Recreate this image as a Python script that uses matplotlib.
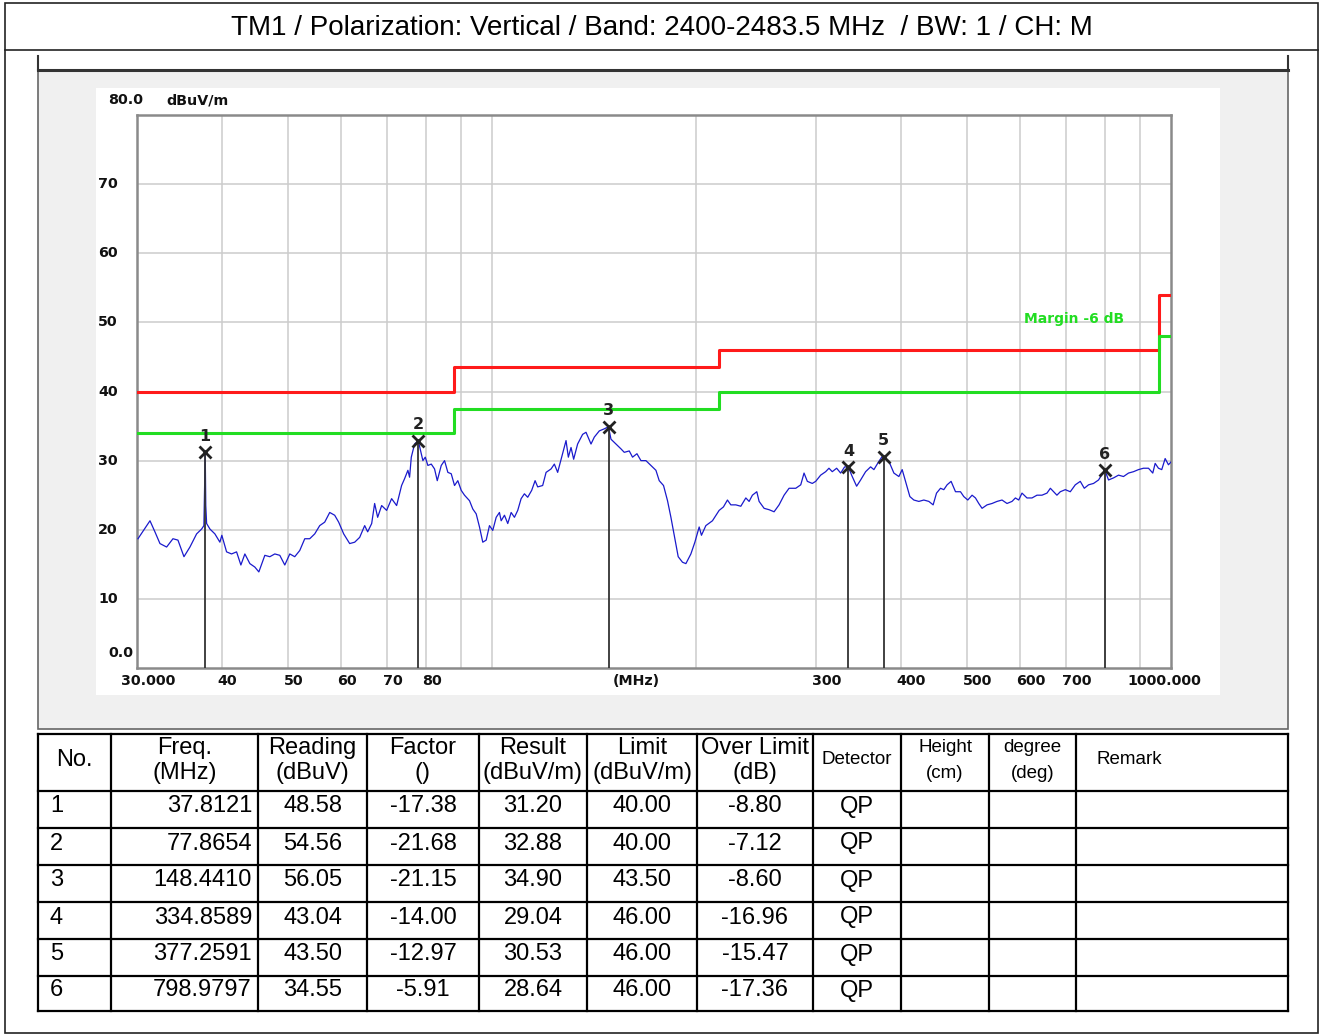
# EMI radiated emission plot (30 MHz - 1 GHz) with the peak table below it.
import matplotlib as mpl
mpl.use('Agg')
import matplotlib.pyplot as plt
from matplotlib.patches import Rectangle

# ------------------------------- data -------------------------------------- #
title = "TM1 / Polarization: Vertical / Band: 2400-2483.5 MHz  / BW: 1 / CH: M"

trace_freq = [30.10, 31.35, 31.88, 32.43, 33.17, 33.89, 34.47, 35.18, 35.90, 36.72,
              37.35, 37.64, 37.72, 37.81, 37.88, 37.99, 38.42, 39.07, 39.74, 40.00,
              40.65, 41.34, 42.05, 42.67, 43.25, 43.99, 44.74, 45.35, 46.28, 47.07,
              47.87, 48.69, 49.52, 50.37, 51.22, 52.10, 52.99, 53.89, 54.81, 55.75,
              56.70, 57.67, 58.65, 59.45, 60.47, 61.71, 62.77, 63.84, 64.93, 65.59,
              66.49, 67.16, 67.85, 68.78, 69.95, 71.14, 72.36, 73.59, 74.35, 75.18,
              75.61, 76.05, 76.90, 77.87, 78.67, 79.10, 79.74, 80.45, 81.38, 82.29,
              83.05, 84.18, 85.13, 86.09, 87.08, 88.06, 89.05, 90.08, 91.09, 92.65,
              93.69, 94.77, 95.84, 96.91, 98.04, 99.14, 100.25, 101.42, 102.55, 103.15,
              104.31, 105.48, 106.70, 107.90, 109.11, 110.37, 111.61, 112.87, 114.40, 115.73,
              116.75, 118.74, 120.12, 122.17, 123.54, 124.93, 126.64, 128.53, 129.54, 130.73,
              131.89, 133.68, 135.97, 137.54, 139.89, 141.46, 143.88, 146.34, 148.44, 149.69,
              152.25, 154.85, 156.59, 159.26, 161.05, 163.47, 165.70, 168.53, 171.41, 174.34,
              176.30, 178.89, 181.33, 183.43, 185.49, 188.02, 190.78, 192.99, 196.28, 198.96,
              201.88, 203.45, 206.51, 211.18, 216.02, 219.19, 222.19, 224.76, 228.60, 232.50,
              236.48, 239.14, 241.82, 245.45, 247.38, 251.60, 255.90, 260.27, 264.71, 269.24,
              273.83, 280.12, 284.90, 288.10, 291.34, 296.27, 299.70, 304.81, 310.02, 313.51,
              317.03, 321.78, 326.18, 330.63, 334.86, 339.24, 344.33, 349.04, 355.00, 361.06,
              365.12, 371.36, 375.53, 377.26, 384.15, 390.72, 397.39, 401.86, 406.51, 412.47,
              418.09, 425.23, 432.49, 439.89, 446.34, 451.50, 457.65, 462.80, 468.00, 474.38,
              481.51, 489.73, 495.24, 501.99, 509.36, 515.25, 521.05, 526.90, 535.89, 545.04,
              554.36, 563.82, 573.44, 583.24, 589.99, 596.62, 603.32, 613.63, 624.11, 634.76,
              645.60, 656.64, 664.24, 671.62, 679.16, 687.02, 698.75, 710.69, 722.82, 735.17,
              745.20, 756.11, 769.02, 782.15, 798.98, 809.06, 822.89, 836.95, 851.24, 865.77,
              880.57, 895.61, 910.91, 926.49, 940.06, 947.72, 958.36, 969.13, 980.35, 991.36,
              1000.0]
trace_level = [18.7, 21.3, 19.7, 18.0, 17.5, 18.7, 18.5, 16.1, 17.5, 19.4,
               20.1, 20.6, 26.0, 31.2, 23.5, 20.9, 20.1, 19.4, 18.2, 19.2,
               16.8, 16.5, 16.8, 14.9, 16.5, 15.1, 14.6, 13.9, 16.3, 16.1,
               16.5, 16.3, 14.9, 16.5, 16.1, 17.0, 18.7, 18.7, 19.4, 20.6,
               21.1, 22.5, 22.1, 21.1, 19.4, 18.0, 18.2, 18.9, 20.6, 19.7,
               20.9, 23.8, 21.8, 23.5, 22.8, 24.5, 23.5, 26.4, 27.4, 28.6,
               27.6, 30.5, 32.4, 32.88, 31.0, 30.0, 30.5, 29.3, 29.5, 28.8,
               27.1, 29.3, 30.0, 28.3, 28.1, 26.4, 27.1, 25.7, 25.0, 24.2,
               23.0, 22.3, 20.4, 18.2, 18.5, 20.6, 19.9, 21.8, 22.5, 21.3,
               22.1, 20.9, 22.5, 21.8, 22.8, 24.5, 25.2, 24.7, 25.7, 27.1,
               26.2, 26.4, 28.3, 28.8, 29.5, 28.3, 30.5, 32.9, 30.5, 31.9,
               30.2, 32.4, 33.8, 34.1, 32.4, 33.4, 34.3, 34.6, 34.9, 33.1,
               32.4, 31.7, 31.2, 31.4, 30.5, 31.0, 30.0, 30.0, 29.3, 28.6,
               27.1, 26.4, 24.2, 21.8, 19.2, 16.1, 15.3, 15.1, 16.5, 18.2,
               20.4, 19.2, 20.6, 21.3, 22.8, 23.3, 24.3, 23.6, 23.6, 23.4,
               24.6, 24.1, 25.0, 25.5, 24.1, 23.1, 22.9, 22.6, 23.6, 25.0,
               26.0, 26.0, 26.5, 28.2, 27.0, 26.7, 27.0, 27.9, 28.4, 28.9,
               28.4, 28.9, 28.2, 29.1, 29.04, 27.7, 26.3, 27.2, 28.4, 29.1,
               28.7, 29.9, 30.6, 30.53, 29.9, 28.2, 27.7, 28.7, 27.0, 24.8,
               24.3, 24.1, 24.3, 24.1, 23.6, 25.3, 26.0, 25.8, 26.5, 27.0,
               25.5, 25.5, 24.8, 24.3, 25.0, 24.6, 23.8, 23.1, 23.6, 23.8,
               24.1, 24.3, 23.8, 24.1, 24.6, 24.3, 25.3, 24.6, 24.6, 25.0,
               25.0, 25.3, 26.0, 25.5, 25.0, 25.5, 25.8, 25.5, 26.5, 27.0,
               26.0, 26.5, 26.7, 27.2, 28.64, 27.2, 27.5, 27.9, 27.7, 28.2,
               28.4, 28.7, 28.9, 28.9, 28.2, 29.6, 28.9, 28.7, 30.3, 29.4,
               29.8]

# class B limit (red) and the -6 dB margin line (green)
limit_freq = [30, 88, 88, 216, 216, 960, 960, 1000]
limit_level = [40, 40, 43.5, 43.5, 46, 46, 54, 54]
margin_db = 6

# peak table
marker_no = [1, 2, 3, 4, 5, 6]
marker_freq = [37.8121, 77.8654, 148.4410, 334.8589, 377.2591, 798.9797]
reading = [48.58, 54.56, 56.05, 43.04, 43.50, 34.55]
factor = [-17.38, -21.68, -21.15, -14.00, -12.97, -5.91]
result = [31.20, 32.88, 34.90, 29.04, 30.53, 28.64]
limit = [40.00, 40.00, 43.50, 46.00, 46.00, 46.00]
over_limit = [-8.80, -7.12, -8.60, -16.96, -15.47, -17.36]
detector = ['QP'] * 6

header_top = ['No.', 'Freq.', 'Reading', 'Factor', 'Result', 'Limit',
              'Over Limit', 'Detector', 'Height', 'degree', 'Remark']
header_bot = ['', '(MHz)', '(dBuV)', '()', '(dBuV/m)', '(dBuV/m)',
              '(dB)', '', '(cm)', '(deg)', '']

x_grid = [40, 50, 60, 70, 80, 90, 100, 200, 300, 400, 500, 600, 700, 800, 900]
x_tick_freq = [40, 50, 60, 70, 80, 300, 400, 500, 600, 700]
y_ticks = [10, 20, 30, 40, 50, 60, 70]

# ------------------------------ figure ------------------------------------- #
W, H = 1321, 1036
fig = plt.figure(figsize=(W / 100, H / 100), dpi=100)
plt.rcParams['font.family'] = ['Liberation Sans', 'DejaVu Sans']

bg = fig.add_axes([0, 0, 1, 1], zorder=0)
bg.set_xlim(0, W)
bg.set_ylim(H, 0)
bg.axis('off')

# -- page frame, title box, grey report panel
bg.add_patch(Rectangle((5, 3), 1313, 1030, fill=False, ec='#222222', lw=1.2))
bg.plot([5, 1318], [50, 50], color='#222222', lw=1.2)
bg.text(662, 28, title, ha='center', va='center', fontsize=20, color='black')

bg.add_patch(Rectangle((38, 70), 1250, 659, fc='#f0f0f0', ec='#666666', lw=1.2))
bg.plot([38, 1288], [70, 70], color='#333333', lw=2.2)
bg.plot([38, 38], [56, 70], color='#333333', lw=1.5)
bg.plot([1288, 1288], [56, 70], color='#333333', lw=1.5)
bg.add_patch(Rectangle((96, 88), 1124, 607, fc='white', ec='none'))

# -- table
row_y = [734, 791, 828, 865, 902, 939, 976, 1011]
col_x = [38, 111, 258, 367, 479, 587, 697, 813, 901, 989, 1076, 1288]
for y in row_y:
    bg.plot([col_x[0], col_x[-1]], [y, y], color='black', lw=1.6)
for x in col_x:
    bg.plot([x, x], [row_y[0], row_y[-1]], color='black', lw=1.6)

small_cols = {'Detector', 'Height', 'degree', 'Remark'}
for i in range(len(header_top)):
    cx = (col_x[i] + col_x[i + 1]) / 2
    fs = 13.5 if header_top[i] in small_cols else 17
    if header_top[i] == 'Remark':
        bg.text(1097, 760, header_top[i], ha='left', va='center', fontsize=fs)
    elif header_bot[i]:
        bg.text(cx, 748, header_top[i], ha='center', va='center', fontsize=fs)
        bg.text(cx, 773, header_bot[i], ha='center', va='center', fontsize=fs)
    else:
        bg.text(cx, 760, header_top[i], ha='center', va='center', fontsize=fs)

for r in range(len(marker_no)):
    y = (row_y[r + 1] + row_y[r + 2]) / 2 - 3
    cells = ['%.2f' % reading[r], '%.2f' % factor[r], '%.2f' % result[r],
             '%.2f' % limit[r], '%.2f' % over_limit[r], detector[r]]
    bg.text(50, y, str(marker_no[r]), ha='left', va='center', fontsize=17)
    bg.text(252, y, '%.4f' % marker_freq[r], ha='right', va='center', fontsize=17)
    for j, txt in enumerate(cells):
        cx = (col_x[j + 2] + col_x[j + 3]) / 2
        bg.text(cx, y, txt, ha='center', va='center', fontsize=17)

# ------------------------------ spectrum plot ------------------------------ #
ax = fig.add_axes([137 / W, 1 - 668 / H, 1034 / W, 553 / H], zorder=1)
ax.set_xscale('log')
ax.set_xlim(30, 1000)
ax.set_ylim(0, 80)
ax.set_xticks(x_grid)
ax.set_xticks([], minor=True)
ax.set_yticks(y_ticks)
ax.tick_params(which='both', length=0, labelbottom=False, labelleft=False)
ax.grid(True, color='#cccccc', lw=1.1)
for s in ax.spines.values():
    s.set_color('#8a8a8a')
    s.set_linewidth(1.8)

green_level = [v - margin_db for v in limit_level]
ax.plot(limit_freq, limit_level, color='#ff1a1a', lw=2.2, zorder=3)
ax.plot(limit_freq, green_level, color='#22dd22', lw=2.2, zorder=3)
ax.plot(trace_freq, trace_level, color='#1a1acc', lw=0.9, zorder=4)

for n, f, v in zip(marker_no, marker_freq, result):
    ax.plot([f, f], [0, v], color='#333333', lw=1.3, zorder=5)
    ax.plot(f, v, marker='x', ms=8, mew=2, color='#222222', zorder=6)
    ax.annotate(str(n), (f, v), xytext=(0, 16), textcoords='offset pixels',
                ha='center', va='center', fontsize=11.5, fontweight='bold',
                family='DejaVu Sans', color='#222222', zorder=6)

ax.text(0.906, 0.632, 'Margin -6 dB', transform=ax.transAxes, ha='center',
        va='center', fontsize=10, fontweight='bold', family='DejaVu Sans',
        color='#22dd22')

# -- axis labels in the analyser style
lab = dict(fontsize=10.3, fontweight='bold', family='DejaVu Sans', color='#111111',
           va='center', annotation_clip=False)
for f in x_tick_freq:
    ax.annotate(str(f), (f, 0), xycoords=('data', 'axes fraction'),
                xytext=(-4, -13), textcoords='offset pixels', ha='left', **lab)
ax.annotate('30.000', (30, 0), xycoords=('data', 'axes fraction'),
            xytext=(11, -13), textcoords='offset pixels', ha='center', **lab)
ax.annotate('1000.000', (1000, 0), xycoords=('data', 'axes fraction'),
            xytext=(-7, -13), textcoords='offset pixels', ha='center', **lab)
ax.annotate('(MHz)', (0.4826, 0), xycoords='axes fraction',
            xytext=(0, -13), textcoords='offset pixels', ha='center', **lab)
for v in y_ticks:
    ax.annotate(str(v), (0, v), xycoords=('axes fraction', 'data'),
                xytext=(-39, 0), textcoords='offset pixels', ha='left', **lab)
ax.annotate('0.0', (0, 0), xycoords=('axes fraction', 'data'),
            xytext=(-29, 15), textcoords='offset pixels', ha='left', **lab)
ax.annotate('80.0', (0, 80), xycoords=('axes fraction', 'data'),
            xytext=(-29, 15), textcoords='offset pixels', ha='left', **lab)
ax.annotate('dBuV/m', (0, 80), xycoords=('axes fraction', 'data'),
            xytext=(29, 15), textcoords='offset pixels', ha='left', **lab)

fig.savefig('out.png', dpi=100)
